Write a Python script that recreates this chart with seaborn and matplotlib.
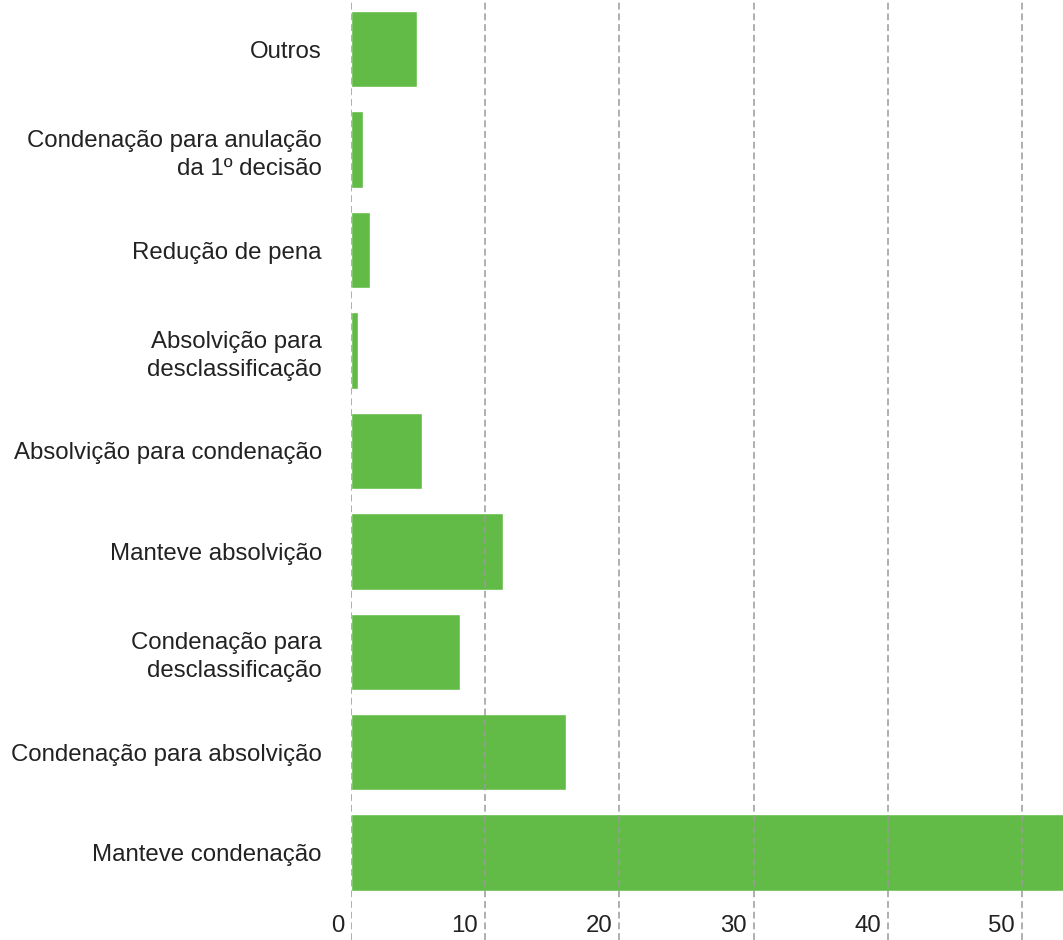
import matplotlib
matplotlib.use("Agg")
import matplotlib.pyplot as plt
import matplotlib.transforms as mtransforms
import seaborn as sns
import pandas as pd

categories = [
    "Outros",
    "Condenação para anulação\nda 1º decisão",
    "Redução de pena",
    "Absolvição para\ndesclassificação",
    "Absolvição para condenação",
    "Manteve absolvição",
    "Condenação para\ndesclassificação",
    "Condenação para absolvição",
    "Manteve condenação",
]
values = [4.9, 0.9, 1.4, 0.5, 5.3, 11.3, 8.1, 16.0, 55.0]
xticks = [0, 10, 20, 30, 40, 50]

df = pd.DataFrame({"categoria": categories, "valor": values})

sns.set_style("white")
plt.rcParams["font.family"] = ["Liberation Sans", "DejaVu Sans"]

fig = plt.figure(figsize=(10.63, 9.40), dpi=100)
ax = fig.add_axes([351 / 1063, 0, 1 - 351 / 1063, 1])

sns.barplot(data=df, x="valor", y="categoria", orient="h", color="#62bb46",
            saturation=1, width=0.76, ax=ax, zorder=1)

ax.set_xlim(0, 53.05)
ax.set_ylim(8.87, -0.49)
sns.despine(ax=ax, left=True, bottom=True)
ax.set_xlabel("")
ax.set_ylabel("")
ax.set_xticks([])

# dashed vertical gridlines drawn over the bars
for t in xticks:
    ax.axvline(t, color="#9a9a9a", lw=1.1, ls=(0, (4.5, 2.5)), zorder=3)

# x tick labels sit inside the figure bottom, just left of each gridline
offset = mtransforms.ScaledTranslation(-7 / 100, 0, fig.dpi_scale_trans)
trans = mtransforms.blended_transform_factory(ax.transData, ax.transAxes) + offset
for t in xticks:
    ax.text(t, 0.003, str(t), transform=trans, ha="right", va="bottom",
            fontsize=17.3, color="#222222")

ax.tick_params(axis="y", length=0, pad=21, labelsize=17.3, labelcolor="#222222")
for lbl in ax.get_yticklabels():
    lbl.set_linespacing(1.35)

fig.savefig("out.png", dpi=100)
